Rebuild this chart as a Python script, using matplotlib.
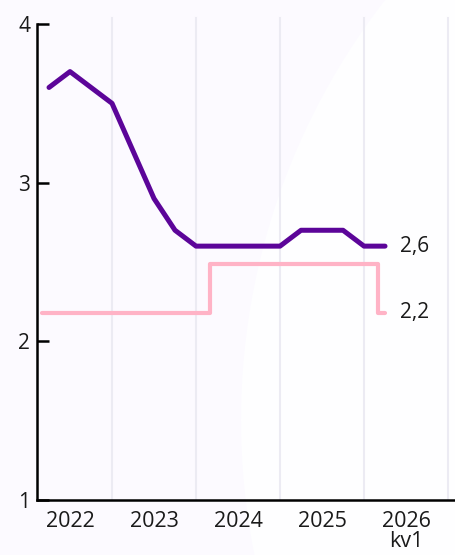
import matplotlib
matplotlib.use("Agg")
import matplotlib.pyplot as plt
from matplotlib.patches import Circle

# ---- data ----
purple_periods = ["2022Q2", "2022Q3", "2022Q4", "2023Q1", "2023Q2", "2023Q3", "2023Q4",
                  "2024Q1", "2024Q2", "2024Q3", "2024Q4", "2025Q1", "2025Q2", "2025Q3",
                  "2025Q4", "2026Q1", "2026Q2"]
purple_values = [3.6, 3.7, 3.6, 3.5, 3.2, 2.9, 2.7,
                 2.6, 2.6, 2.6, 2.6, 2.6, 2.7, 2.7,
                 2.7, 2.6, 2.6]
pink_periods = ["2022-03", "2024-03", "2026-03", "2026-04"]
pink_values = [2.18, 2.49, 2.18, 2.18]
year_labels = ["2022", "2023", "2024", "2025", "2026\nkv1"]
years = [2022, 2023, 2024, 2025, 2026]
y_ticks = [1, 2, 3, 4]
end_labels = ["2,6", "2,2"]


def q_to_x(p):
    y, q = p.split("Q")
    return int(y) + (int(q) - 1) / 4


def m_to_x(p):
    y, m = p.split("-")
    return int(y) + (int(m) - 1) / 12


px = [q_to_x(p) for p in purple_periods]
kx = [m_to_x(p) for p in pink_periods]

plt.rcParams["font.family"] = ["Open Sans", "DejaVu Sans"]
TXT = "#1a1a1a"
PURPLE = "#5c0599"
PINK = "#ffb3c6"

fig = plt.figure(figsize=(4.55, 5.55), dpi=100, facecolor="#fcfaff")
bg = Circle((9.25, 1.35), 6.84, transform=fig.dpi_scale_trans,
            facecolor="#fefeff", edgecolor="none", zorder=-10)
fig.patches.append(bg)

ax = fig.add_axes([37 / 455, 55 / 555, 418 / 455, 476 / 555])
ax.set_zorder(5)
ax.set_facecolor("none")
ax.set_xlim(2022.107, 2027.083)
ax.set_ylim(1, 4)

for yr in years[1:] + [2027]:
    ax.axvline(yr, ymin=0, ymax=1.013, color="#ecebf3", lw=1.5, zorder=1, clip_on=False)

ax.plot(kx, pink_values, drawstyle="steps-post", color=PINK, lw=3.0,
        solid_capstyle="round", solid_joinstyle="round", zorder=3)
ax.plot(px, purple_values, color=PURPLE, lw=3.6,
        solid_capstyle="round", solid_joinstyle="round", zorder=4)

ax.annotate(end_labels[0], (px[-1], purple_values[-1]), xytext=(11, 0),
            textcoords="offset points", va="center", ha="left", fontsize=15, color=TXT)
ax.annotate(end_labels[1], (kx[-1], pink_values[-1]), xytext=(11, 0),
            textcoords="offset points", va="center", ha="left", fontsize=15, color=TXT)

for s in ["top", "right"]:
    ax.spines[s].set_visible(False)
for s in ["left", "bottom"]:
    ax.spines[s].set_linewidth(1.8)
    ax.spines[s].set_color("black")

ax.set_yticks(y_ticks)
ax.set_yticklabels([str(v) for v in y_ticks])
ax.tick_params(axis="y", direction="in", length=8.6, width=1.8, pad=5,
               labelsize=15, labelcolor=TXT)
ax.set_xticks([y + 0.5 for y in years])
ax.set_xticklabels(year_labels, linespacing=0.95)
ax.tick_params(axis="x", length=0, pad=8, labelsize=15.5, labelcolor=TXT)

fig.savefig("out.png", dpi=100, facecolor=fig.get_facecolor())
